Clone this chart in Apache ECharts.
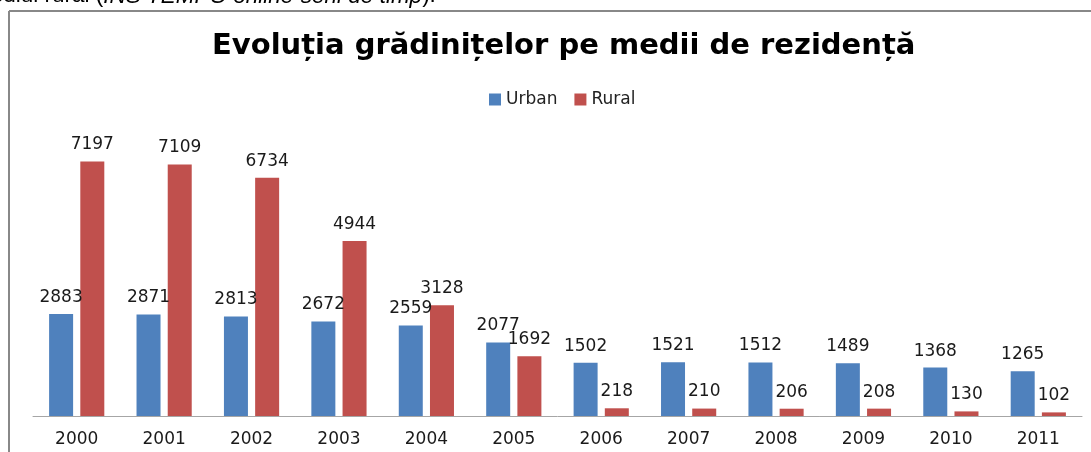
<!DOCTYPE html>
<html>
<head>
<meta charset="utf-8">
<script src="https://cdn.jsdelivr.net/npm/echarts@6/dist/echarts.min.js"></script>
<style>html,body{margin:0;padding:0;background:#fff;}#c{width:1091px;height:452px;}</style>
</head>
<body>
<div id="c"></div>
<script>
const categories = ['2000','2001','2002','2003','2004','2005','2006','2007','2008','2009','2010','2011'];
const urbanValues = [2883,2871,2813,2672,2559,2077,1502,1521,1512,1489,1368,1265];
const ruralValues = [7197,7109,6734,4944,3128,1692,218,210,206,208,130,102];
const seriesNames = ['Urban','Rural'];
const titleText = 'Evoluția grădinițelor pe medii de rezidență';

const chart = echarts.init(document.getElementById('c'), null, {renderer:'canvas'});
const labelFont = {fontFamily:'DejaVu Sans', fontSize:17, color:'#1a1a1a'};
chart.setOption({
  animation:false,
  backgroundColor:'#fff',
  title:{text:titleText,left:207,top:27,
    textStyle:{fontFamily:'DejaVu Sans',fontWeight:'bold',fontSize:29,color:'#000'}},
  legend:{data:seriesNames,top:86,left:484,itemWidth:12,itemHeight:12,itemGap:17,icon:'rect',
    textStyle:{fontFamily:'DejaVu Sans',fontSize:17,color:'#222'}},
  grid:{left:33,right:9,top:133,bottom:36,containLabel:false},
  xAxis:{type:'category',data:categories,
    axisLine:{lineStyle:{color:'#a6a6a6',width:1}},axisTick:{show:false},
    axisLabel:{fontFamily:'DejaVu Sans',fontSize:17,color:'#1a1a1a',margin:15}},
  yAxis:{type:'value',min:0,max:8000,show:false,splitLine:{show:false}},
  series:[
    {name:seriesNames[0],type:'bar',data:urbanValues,barWidth:24,barGap:'30%',
      itemStyle:{color:'#4F81BD'},label:{show:true,position:'top',distance:8,...labelFont}},
    {name:seriesNames[1],type:'bar',data:ruralValues,barWidth:24,barGap:'30%',
      itemStyle:{color:'#C0504D'},label:{show:true,position:'top',distance:8,...labelFont}}
  ],
  graphic:[
    {type:'line',shape:{x1:9,y1:11,x2:1095,y2:11},style:{stroke:'#888',lineWidth:2},silent:true},
    {type:'line',shape:{x1:9,y1:11,x2:9,y2:452},style:{stroke:'#888',lineWidth:2},silent:true},
    {type:'text',x:-28,y:-15,silent:true,style:{
      text:'{n|mediul rural (}{i|INS TEMPO online-serii de timp}{n|).}',
      rich:{n:{fontFamily:'Liberation Sans',fontSize:22.5,lineHeight:22.5,fill:'#000'},
            i:{fontFamily:'Liberation Sans',fontSize:22.5,lineHeight:22.5,fontStyle:'italic',fill:'#000'}}}}
  ]
});
</script>
</body>
</html>
